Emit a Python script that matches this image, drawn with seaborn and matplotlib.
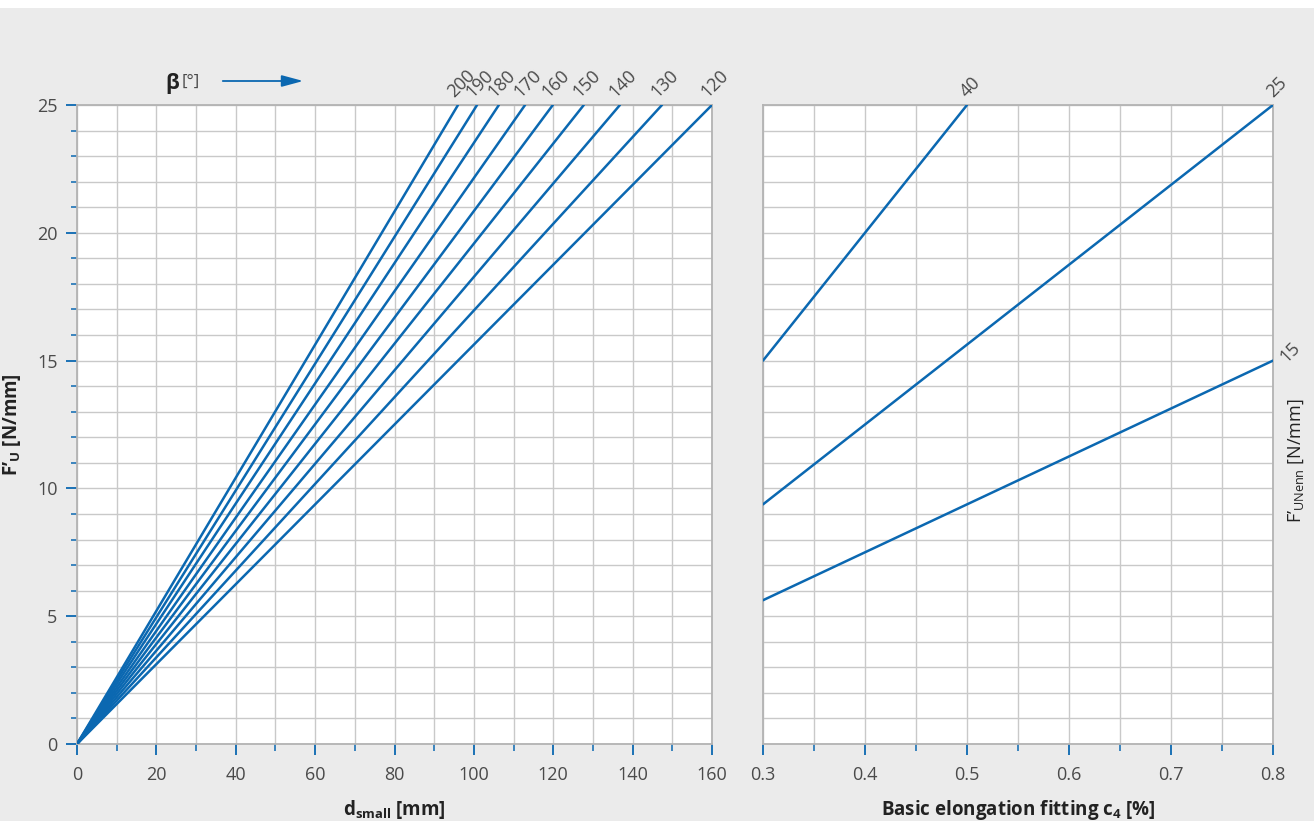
import numpy as np
import pandas as pd
import matplotlib
matplotlib.use("Agg")
import matplotlib.pyplot as plt
from matplotlib.ticker import MultipleLocator
import seaborn as sns

# ---- data ----
beta = [200, 190, 180, 170, 160, 150, 140, 130, 120]          # wrap angle [deg]
d_at_25 = [96.0, 100.8, 106.3, 112.9, 119.9, 127.7, 136.8, 147.4, 160.0]  # d_small [mm] where F'U = 25
fnenn = [40, 25, 15]                                           # F'UNenn [N/mm]
c4_start = [0.3, 0.3, 0.3]
c4_end = [0.5, 0.8, 0.8]
f_start = [15.0, 9.375, 5.625]
f_end = [25.0, 25.0, 15.0]
label_offsets = [(2, 3), (2, 3), (12, -4)]

BLUE = "#0b68b1"
GRID = "#c9c9c9"
SPINE = "#b3b3b3"
TXT = "#4a4a4a"
BG = "#ebebeb"

sns.set_theme(style="white")
plt.rcParams['font.family'] = ['Open Sans', 'DejaVu Sans']
plt.rcParams['mathtext.fontset'] = 'custom'
plt.rcParams['mathtext.rm'] = 'Open Sans'
plt.rcParams['mathtext.bf'] = 'Open Sans:bold'
plt.rcParams['mathtext.it'] = 'Open Sans'

fig = plt.figure(figsize=(13.14, 8.21), dpi=100, facecolor=BG)
fig.patches.append(plt.Rectangle((0, 1 - 8 / 821), 1, 8 / 821, transform=fig.transFigure,
                                 facecolor="white", edgecolor="none", zorder=0))

ax1 = fig.add_axes([77 / 1314, (821 - 744) / 821, 635 / 1314, 639 / 821])
ax2 = fig.add_axes([763 / 1314, (821 - 744) / 821, 510 / 1314, 639 / 821])

# ---- left panel ----
rows = []
for b, d in zip(beta, d_at_25):
    rows.append({"beta": b, "d": 0.0, "F": 0.0})
    rows.append({"beta": b, "d": d, "F": 25.0})
df1 = pd.DataFrame(rows)
sns.lineplot(data=df1, x="d", y="F", hue="beta", palette=[BLUE] * len(beta),
             estimator=None, legend=False, lw=1.8, ax=ax1, zorder=3)
ax1.set_xlim(0, 160)
ax1.set_ylim(0, 25)
ax1.xaxis.set_major_locator(MultipleLocator(20))
ax1.xaxis.set_minor_locator(MultipleLocator(10))
ax1.yaxis.set_major_locator(MultipleLocator(5))
ax1.yaxis.set_minor_locator(MultipleLocator(1))
ax1.grid(which="both", color=GRID, lw=1)
for b, d in zip(beta, d_at_25):
    ax1.annotate(str(b), (d, 25), xytext=(-1, 3), textcoords="offset points",
                 rotation=45, ha="left", va="bottom", fontsize=13, color=TXT,
                 rotation_mode="anchor", annotation_clip=False)
ax1.set_xlabel("d$_\\mathbf{small}$ [mm]", fontsize=13.5, fontweight="bold", color="#222222", labelpad=10)
ax1.set_ylabel("F’$_\\mathbf{U}$ [N/mm]", fontsize=13.5, fontweight="bold", color="#222222", labelpad=10)

# ---- right panel ----
rows = []
for n, xs, xe, ys, ye in zip(fnenn, c4_start, c4_end, f_start, f_end):
    rows.append({"n": n, "c4": xs, "F": ys})
    rows.append({"n": n, "c4": xe, "F": ye})
df2 = pd.DataFrame(rows)
sns.lineplot(data=df2, x="c4", y="F", hue="n", palette=[BLUE] * len(fnenn),
             estimator=None, legend=False, lw=1.8, ax=ax2, zorder=3)
ax2.set_xlim(0.3, 0.8)
ax2.set_ylim(0, 25)
ax2.xaxis.set_major_locator(MultipleLocator(0.1))
ax2.xaxis.set_minor_locator(MultipleLocator(0.05))
ax2.yaxis.set_major_locator(MultipleLocator(5))
ax2.yaxis.set_minor_locator(MultipleLocator(1))
ax2.grid(which="both", color=GRID, lw=1)
ax2.set_yticklabels([])
ax2.tick_params(axis="y", which="both", left=False, right=False)
for n, xe, ye, off in zip(fnenn, c4_end, f_end, label_offsets):
    ax2.annotate(str(n), (xe, ye), xytext=off, textcoords="offset points",
                 rotation=45, ha="left", va="bottom", fontsize=13, color=TXT,
                 rotation_mode="anchor", annotation_clip=False)
ax2.set_xlabel("Basic elongation fitting c$_\\mathbf{4}$ [%]", fontsize=13.5, fontweight="bold",
               color="#222222", labelpad=10)
ax2.set_ylabel("F’$_\\mathrm{UNenn}$ [N/mm]", fontsize=13, color="#222222")
ax2.yaxis.set_label_position("right")
ax2.yaxis.set_label_coords(1.027, 0.443)
ax2.set_xticks([0.3, 0.4, 0.5, 0.6, 0.7, 0.8])
ax2.set_xticklabels(["0.3", "0.4", "0.5", "0.6", "0.7", "0.8"])

for ax in (ax1, ax2):
    ax.set_facecolor("white")
    for s in ax.spines.values():
        s.set_color(SPINE)
        s.set_linewidth(1.3)
    ax.tick_params(axis="x", which="major", bottom=True, length=8, width=1.3, color=BLUE,
                   labelsize=13, labelcolor=TXT, pad=8)
    ax.tick_params(axis="x", which="minor", bottom=True, length=5, width=1.1, color=BLUE)
ax1.tick_params(axis="y", which="major", left=True, length=8, width=1.3, color=BLUE,
                labelsize=13, labelcolor=TXT, pad=6)
ax1.tick_params(axis="y", which="minor", left=True, length=4, width=1.1, color=BLUE)

# beta arrow legend
fig.text(165 / 1314, 1 - 83 / 821, "β", fontsize=15, fontweight="bold", color="#222222",
         ha="left", va="center")
fig.text(182 / 1314, 1 - 82 / 821, "[°]", fontsize=12, color=TXT, ha="left", va="center")
fig.patches.append(matplotlib.patches.FancyArrowPatch(
    (220 / 1314, 1 - 81 / 821), (306 / 1314, 1 - 81 / 821), transform=fig.transFigure,
    arrowstyle="-|>,head_length=13,head_width=3.5", color=BLUE, lw=1.3, mutation_scale=1))

fig.savefig("out.png", dpi=100, facecolor=BG)
